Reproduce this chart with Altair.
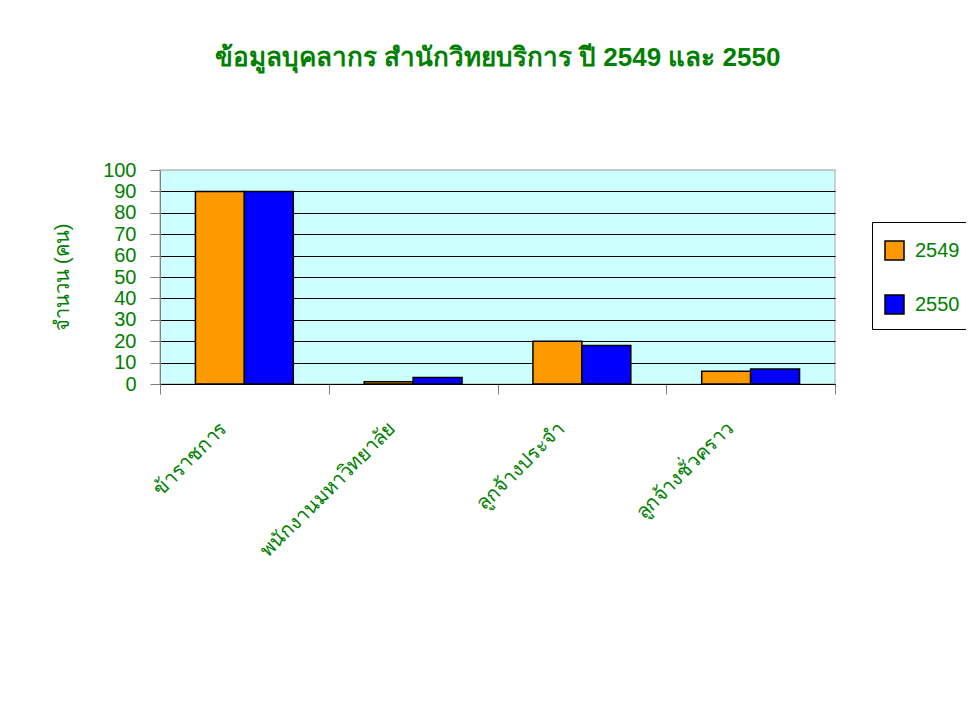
import altair as alt
import pandas as pd

# ---- data ----
categories = ["ข้าราชการ", "พนักงานมหาวิทยาลัย", "ลูกจ้างประจำ", "ลูกจ้างชั่วคราว"]
years = ["2549", "2550"]
values_2549 = [90, 1, 20, 6]
values_2550 = [90, 3, 18, 7]
year_colors = ["#FF9900", "#0000FF"]
y_ticks = [0, 10, 20, 30, 40, 50, 60, 70, 80, 90, 100]

title_text = "ข้อมูลบุคลากร สำนักวิทยบริการ ปี 2549 และ 2550"
y_title = "จำนวน (คน)"

rows = []
for c, a, b in zip(categories, values_2549, values_2550):
    rows.append({"category": c, "year": years[0], "value": a})
    rows.append({"category": c, "year": years[1], "value": b})
df = pd.DataFrame(rows)

GREEN = "#008000"
FONT = "Liberation Sans, Arial, sans-serif"

bars = alt.Chart(df).mark_bar(stroke="black", strokeWidth=1.5).encode(
    x=alt.X(
        "category:N",
        sort=categories,
        scale=alt.Scale(paddingInner=0, paddingOuter=0),
        axis=alt.Axis(
            title=None,
            labelAngle=-45,
            labelAlign="right",
            labelBaseline="middle",
            labelFontSize=20,
            labelColor=GREEN,
            labelFont=FONT,
            labelPadding=31,
            labelLimit=400,
            labelOffset=-21,
            tickSize=10,
            tickColor="#808080",
            tickBand="extent",
            domainColor="#000000",
            grid=False,
        ),
    ),
    xOffset=alt.XOffset("year:N", sort=years,
                        scale=alt.Scale(paddingInner=0, paddingOuter=0.7245)),
    y=alt.Y(
        "value:Q",
        scale=alt.Scale(domain=[0, 100], nice=False),
        axis=alt.Axis(
            title=y_title,
            values=y_ticks,
            titleFontSize=20,
            titleFontWeight="normal",
            titleColor=GREEN,
            titleFont=FONT,
            titleX=-98,
            titleY=107,
            titleAlign="center",
            titleBaseline="middle",
            titleAngle=270,
            labelFontSize=20,
            labelColor=GREEN,
            labelFont=FONT,
            labelPadding=14,
            tickSize=10,
            tickColor="#808080",
            domainColor="#808080",
            grid=True,
            gridColor={"condition": {"test": "datum.value >= 100", "value": "#C0C0C0"},
                       "value": "#000000"},
            gridWidth=1,
        ),
    ),
    color=alt.Color(
        "year:N",
        sort=years,
        scale=alt.Scale(domain=years, range=year_colors),
        legend=alt.Legend(
            orient="none",
            legendX=712,
            legendY=52,
            title=" ",
            titleFontSize=1,
            titlePadding=5,
            symbolType="square",
            symbolSize=361,
            symbolStrokeColor="black",
            symbolStrokeWidth=1.5,
            labelFontSize=20,
            labelColor=GREEN,
            labelFont=FONT,
            labelOffset=10,
            padding=12,
            rowPadding=29,
            strokeColor="black",
            fillColor="white",
        ),
    ),
).properties(
    width=675,
    height=214,
    title=alt.TitleParams(
        title_text,
        fontSize=26,
        fontWeight="bold",
        color=GREEN,
        font=FONT,
        anchor="middle",
        baseline="alphabetic",
        offset=68,
    ),
)

chart = bars.properties(
    autosize=alt.AutoSizeParams(type="none"),
    padding={"left": 152, "top": 162, "right": 131, "bottom": 311},
    background="white",
).configure_view(
    fill="#CCFFFF",
    stroke="#C0C0C0",
    strokeWidth=1.5,
)

chart.save("out.html", embed_options={"renderer": "svg", "actions": False})
